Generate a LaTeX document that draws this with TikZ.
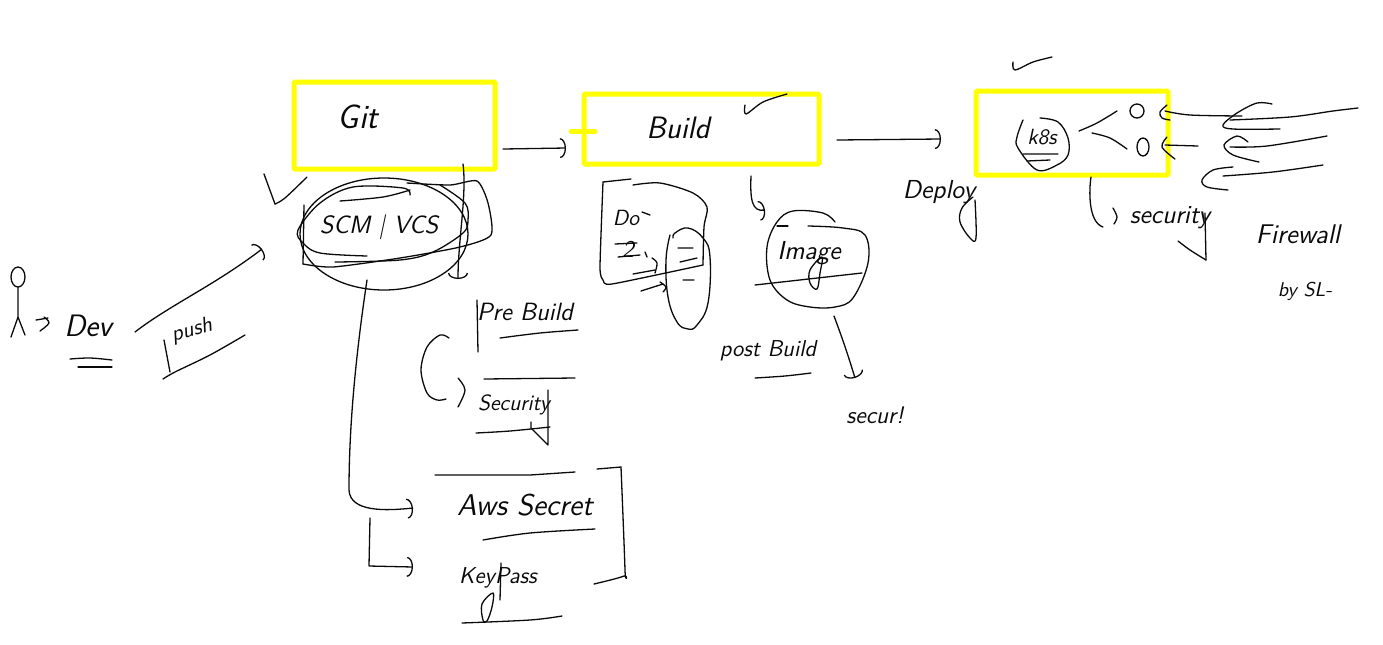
\documentclass[tikz,border=0pt]{standalone}
\usepackage{tikz}
\usetikzlibrary{shapes.geometric, calc, arrows.meta}
\definecolor{skYellow}{RGB}{255,255,0}
\definecolor{skInk}{RGB}{10,10,10}
\newcommand{\skstroke}[1]{\draw[pen] plot[smooth, tension=.55] coordinates {#1};}
\begin{document}
\begin{tikzpicture}[
    x=.5pt, y=-.5pt,
    pen/.style={draw=skInk, line width=.65pt, line cap=round, line join=round},
    arr/.style={pen, -{Arc Barb[length=3pt, width=10pt, line width=.65pt]}},
    stage/.style={draw=skYellow, line width=2.5pt, rounded corners=.6pt, minimum height=#1, inner sep=0pt},
    lab/.style={font=\sffamily\itshape\fontsize{#1}{#1}\selectfont, text=skInk, inner sep=0pt}
  ]
  \useasboundingbox (0,0) rectangle (1383,644);
  % yellow stages
  \node[stage=43.5pt, minimum width=100.5pt] (git) at (394.5,125.5) {};
  \node[stage=35pt, minimum width=117.5pt] (build) at (701.5,129) {};
  \node[stage=42pt, minimum width=96pt] (k8sbox) at (1072,133) {};
  \draw[skYellow, line width=2.5pt, line cap=round] (571,131) -- (595,131);
  % labels
  \node[lab=17] (gitl) at (358,117) {Git};
  \node[lab=15.5] (buildl) at (678,128) {Build};
  \node[lab=12.5] (scml) at (379,227) {SCM | VCS};
  \node[lab=15.5] (dev) at (88,326) {Dev};
  \node[lab=11, rotate=15] (push) at (192,331) {push};
  \node[lab=12.5] (prebuild) at (525,312) {Pre Build};
  \node[lab=11] (security) at (514,405) {Security};
  \node[lab=15] (aws) at (525,505) {Aws Secret};
  \node[lab=11.5] (keypass) at (498,578) {KeyPass};
  \node[lab=13] (image) at (809,253) {Image};
  \node[lab=11.5] (postbuild) at (768,351) {post Build};
  \node[lab=12] (secur) at (875,415) {secur!};
  \node[lab=13] (deploy) at (939,192) {Deploy};
  \node[lab=11] (k8s) at (1042,137) {k8s};
  \node[lab=13] (securityb) at (1170,218) {security};
  \node[lab=13.5] (firewall) at (1298,234) {Firewall};
  \node[lab=10] (bysl) at (1305,291) {by SL-};
  \node[lab=11] (dockr) at (626,218) {Do};
  \node[lab=12] (two) at (628,249) {2};
  % dev figure
  \draw[pen] (18,277) ellipse [x radius=7, y radius=10];
  \draw[pen] (18,287) -- (18,317) (11,337) -- (18,317) -- (25,335);
  \draw[pen] (36,320) -- (48,318);
  \skstroke{(44,317) (49,323) (40,331)}
  \skstroke{(70,359) (90,358) (112,360)}
  \draw[pen] (78,367) -- (112,367);
  \draw[arr] ([shift={(47,6)}]dev.center) .. controls (170,305) and (215,285) .. ([shift={(-117,22)}]scml.center);
  \skstroke{(164,340) (170,372)}
  \skstroke{(163,379) (175,372) (210,355) (245,335)}
  % scm scribbles
  \node[pen, ellipse, minimum width=84pt, minimum height=56pt, inner sep=0pt] (scm) at (384,234) {};
  \skstroke{(264,174) (275,204)}
  \skstroke{(275,204) (285,198) (307,177)}
  \skstroke{(410,195) (403,188) (353,187) (320,203) (298,230) (303,243) (320,253) (367,256)}
  \draw[pen] plot[smooth, tension=.4] coordinates {(407,183) (450,185) (477,181) (488,203) (491,235) (460,247) (400,258) (333,267) (303,264)};
  \draw[pen] (303,264) -- (304,205);
  \skstroke{(340,201) (383,197) (410,190)}
  \skstroke{(335,262) (400,260) (433,252) (463,233) (468,220) (465,203) (440,185)}
  \draw[arr] ([shift={(68.5,38.5)}]git.center) .. controls (467,195) and (458,240) .. ([shift={(74,45)}]scm.center);
  \draw[arr] ([shift={(108.5,23.5)}]git.center) -- ([shift={(-135.5,19)}]build.center);
  % secrets
  \coordinate (fork) at (370,518);
  \draw[arr] ([shift={(-17,46)}]scm.center) .. controls (355,360) and (349,430) .. (349,490) .. controls (350,512) and (385,511) .. ([shift={(-112,3)}]aws.center);
  \draw[arr] (fork) -- (369,566) -- ([shift={(-85,-11)}]keypass.center);
  \draw[pen] (435,475) -- (530,475) -- (575,472);
  \skstroke{(597,469) (621,467)}
  \skstroke{(621,467) (625,570) (624,576) (594,584)}
  \skstroke{(483,540) (530,533) (595,529)}
  \skstroke{(462,623) (530,620) (562,616)}
  \draw[pen] (501,563) -- (500,600);
  \draw[pen] plot[smooth cycle, tension=.6] coordinates {(493,593) (482,604) (483,620) (487,621) (492,607)};
  % pre build
  \draw[pen] (477,300) -- (478,352);
  \skstroke{(500,338) (540,333) (578,330)}
  \skstroke{(449,338) (440,335) (427,347) (421,370) (427,393) (437,400) (446,399)}
  \skstroke{(458,378) (465,390) (458,407)}
  \draw[pen] (484,379) -- (575,378);
  \skstroke{(476,433) (510,431) (550,427)}
  \draw[pen] (548,390) -- (548,445) -- (531,428) -- (531,422);
  % dockerfile sketch
  \draw[pen] (631,179) -- (603,182);
  \draw[pen] plot[smooth, tension=.35] coordinates {(603,182) (600,267) (603,280) (612,284) (703,265)};
  \draw[pen] plot[smooth, tension=.5] coordinates {(703,265) (704,227) (707,207) (693,193) (660,183) (633,185)};
  \draw[pen] plot[smooth, tension=.7] coordinates {(673,238) (675,233) (688,228) (703,238) (710,257) (708,303) (697,325) (688,329) (677,322) (668,297) (666,260) (670,235)};
  \draw[pen] (642,212) -- (650,215);
  \draw[pen] (615,244) -- (637,243) (618,257) -- (640,255);
  \draw[pen] (645,252) -- (647,257);
  \skstroke{(652,258) (657,263) (655,273)}
  \draw[pen] (633,274) -- (655,270);
  \draw[pen] (641,291) -- (663,284);
  \skstroke{(660,282) (666,287) (663,292)}
  \draw[pen] (678,248) -- (693,248) (680,262) -- (697,258) (683,280) -- (694,280);
  % image and post build
  \skstroke{(745,105) (746,114) (763,102) (787,94)}
  \draw[arr] ([shift={(49.5,47)}]build.center) .. controls (750,200) and (752,212) .. ([shift={(-44,-43)}]image.center);
  \draw[pen] plot[smooth, tension=.6] coordinates {(835,222) (823,213) (793,211) (777,222) (767,247) (770,280) (787,300) (810,307) (835,307) (853,298) (868,263) (865,235) (843,228) (808,226)};
  \draw[pen] (777,226) -- (788,226);
  \draw[pen] (755,285) -- (862,273);
  \draw[pen] plot[smooth cycle, tension=.6] coordinates {(822,257) (810,270) (810,283) (817,289) (820,273)};
  \draw[arr] ([shift={(25,63)}]image.center) .. controls (843,340) and (848,355) .. ([shift={(-20,-37)}]secur.center);
  \skstroke{(755,378) (785,376) (811,373)}
  % deploy and k8s
  \draw[arr] ([shift={(135.5,11)}]build.center) -- ([shift={(-131,6)}]k8sbox.center);
  \draw[pen] plot[smooth, tension=.6] coordinates {(973,197) (962,208) (960,222) (970,238) (976,238) (975,200)};
  \skstroke{(1013,62) (1015,70) (1033,62) (1052,57)}
  \draw[pen] plot[smooth, tension=.6] coordinates {(1023,120) (1017,137) (1018,148) (1037,170) (1057,165) (1068,155) (1068,138) (1058,122) (1040,118)};
  \draw[pen] (1023,154) -- (1058,154) (1027,161) -- (1050,160);
  \skstroke{(1079,131) (1097,123) (1117,111)}
  \skstroke{(1127,149) (1110,138) (1092,133)}
  \draw[pen] (1137,111) ellipse [x radius=7, y radius=7];
  \draw[pen] (1143,147) ellipse [x radius=6, y radius=9];
  \skstroke{(1167,105) (1160,112) (1162,118) (1170,120)}
  \skstroke{(1165,111) (1190,115) (1242,116)}
  \skstroke{(1167,137) (1162,147) (1175,159)}
  \draw[pen] (1165,145) -- (1198,146);
  % firewall arrows
  \skstroke{(1272,104) (1257,103) (1237,113) (1223,125) (1233,129) (1280,129)}
  \skstroke{(1230,120) (1290,117) (1333,111) (1358,108)}
  \skstroke{(1248,142) (1237,136) (1224,145) (1233,155) (1259,162)}
  \skstroke{(1230,147) (1267,146) (1327,136)}
  \skstroke{(1233,167) (1213,170) (1202,180) (1207,187) (1228,190)}
  \skstroke{(1223,176) (1273,172) (1323,165)}
  % security under k8s
  \draw[pen] ([shift={(19,44)}]k8sbox.center) .. controls (1089,190) and (1088,222) .. (1103,227);
  \skstroke{(1113,208) (1117,217) (1114,224)}
  \draw[pen] (1205,213) -- (1206,260);
  \skstroke{(1206,260) (1190,250) (1178,241)}
\end{tikzpicture}
\end{document}
